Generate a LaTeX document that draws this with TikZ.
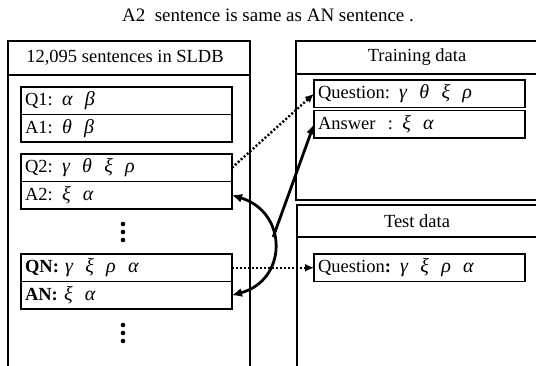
\documentclass[tikz,border=0pt]{standalone}
\usepackage{fontspec}
\setmainfont{Liberation Serif}
\newcommand\gk[1]{{\fontsize{20}{20}\selectfont\itshape #1}}
\usetikzlibrary{positioning,arrows.meta}

\begin{document}
\begin{tikzpicture}
	[x=1pt,y=-1pt,node distance=0pt,
	 entry/.style={draw=black,line width=1.8pt,minimum width=211pt,minimum height=27.5pt,text width=203pt,inner xsep=4pt,inner ysep=0pt,outer sep=0pt,align=left,font=\fontsize{18.5}{20}\selectfont},
	 frame/.style={draw=black,line width=1.9pt},
	 head/.style={font=\fontsize{18.5}{20}\selectfont},
	 dotlink/.style={line width=2.4pt,dash pattern=on 2pt off 2pt,-{Latex[length=9pt,width=8pt]}},
	 link/.style={line width=2.8pt}]
 \useasboundingbox (0,0) rectangle (536,366);
 \clip (0,0) rectangle (536,366);
 \node (title) at (268,15) [font=\fontsize{19}{21}\selectfont\rmfamily] {A2~ sentence is same as AN sentence .};
 % panels
 \draw[frame] (8,372) -- (8,41) -- (250,41) -- (250,372);
 \draw[frame] (8,75) -- (250,75);
 \draw[frame] (545,200) -- (296,200) -- (296,41) -- (545,41);
 \draw[frame] (296,74) -- (545,74);
 \draw[frame] (545,205) -- (297,205) -- (297,372);
 \draw[frame] (297,237) -- (545,237);
 \node (sldb) at (125,58) [head] {12,095 sentences in SLDB};
 \node (train) at (417,57) [head] {Training data};
 \node (test) at (417,221) [head] {Test data};
 % sentences
 \node (q1) at (21,87) [anchor=north west] [entry] {Q1: \gk{α~ β}};
 \node (a1) [below=of q1] [entry] {A1: \gk{θ~ β}};
 \node (q2) at (21,154) [anchor=north west] [entry] {Q2: \gk{γ~ θ~ ξ~ ρ}};
 \node (a2) [below=of q2] [entry] {A2: \gk{ξ~ α}};
 \node (qn) at (21,254) [anchor=north west] [entry] {\textbf{QN:} \gk{γ~ ξ~ ρ~ α}};
 \node (an) [below=of qn] [entry] {\textbf{AN:} \gk{ξ~ α}};
 \foreach \y in {224,232,240,325,333,341}
 \fill (123,\y) circle (2.3pt);
 \node (tq) at (314,80) [anchor=north west] [entry] {Question: \gk{γ~ θ~ ξ~ ρ}};
 \node (ta) [below=3pt of tq] [entry] {Answer~ : \gk{ξ~ α}};
 \node (eq) at (314,254) [anchor=north west] [entry] {Question\textbf{:} \gk{γ~ ξ~ ρ~ α}};
 % links
 \foreach \from/\to in {q2/tq, qn/eq}
 \draw[dotlink] (\from.east) -- (\to.west);
 \draw[link,{Latex[length=10pt,width=9pt]}-{Latex[length=10pt,width=9pt]}] (a2.east) .. controls (288,212) and (288,280) .. coordinate[pos=0.43] (fork) (an.east);
 \draw[link,-{Latex[length=10pt,width=9pt]}] (fork) -- (ta.west);
\end{tikzpicture}
\end{document}
